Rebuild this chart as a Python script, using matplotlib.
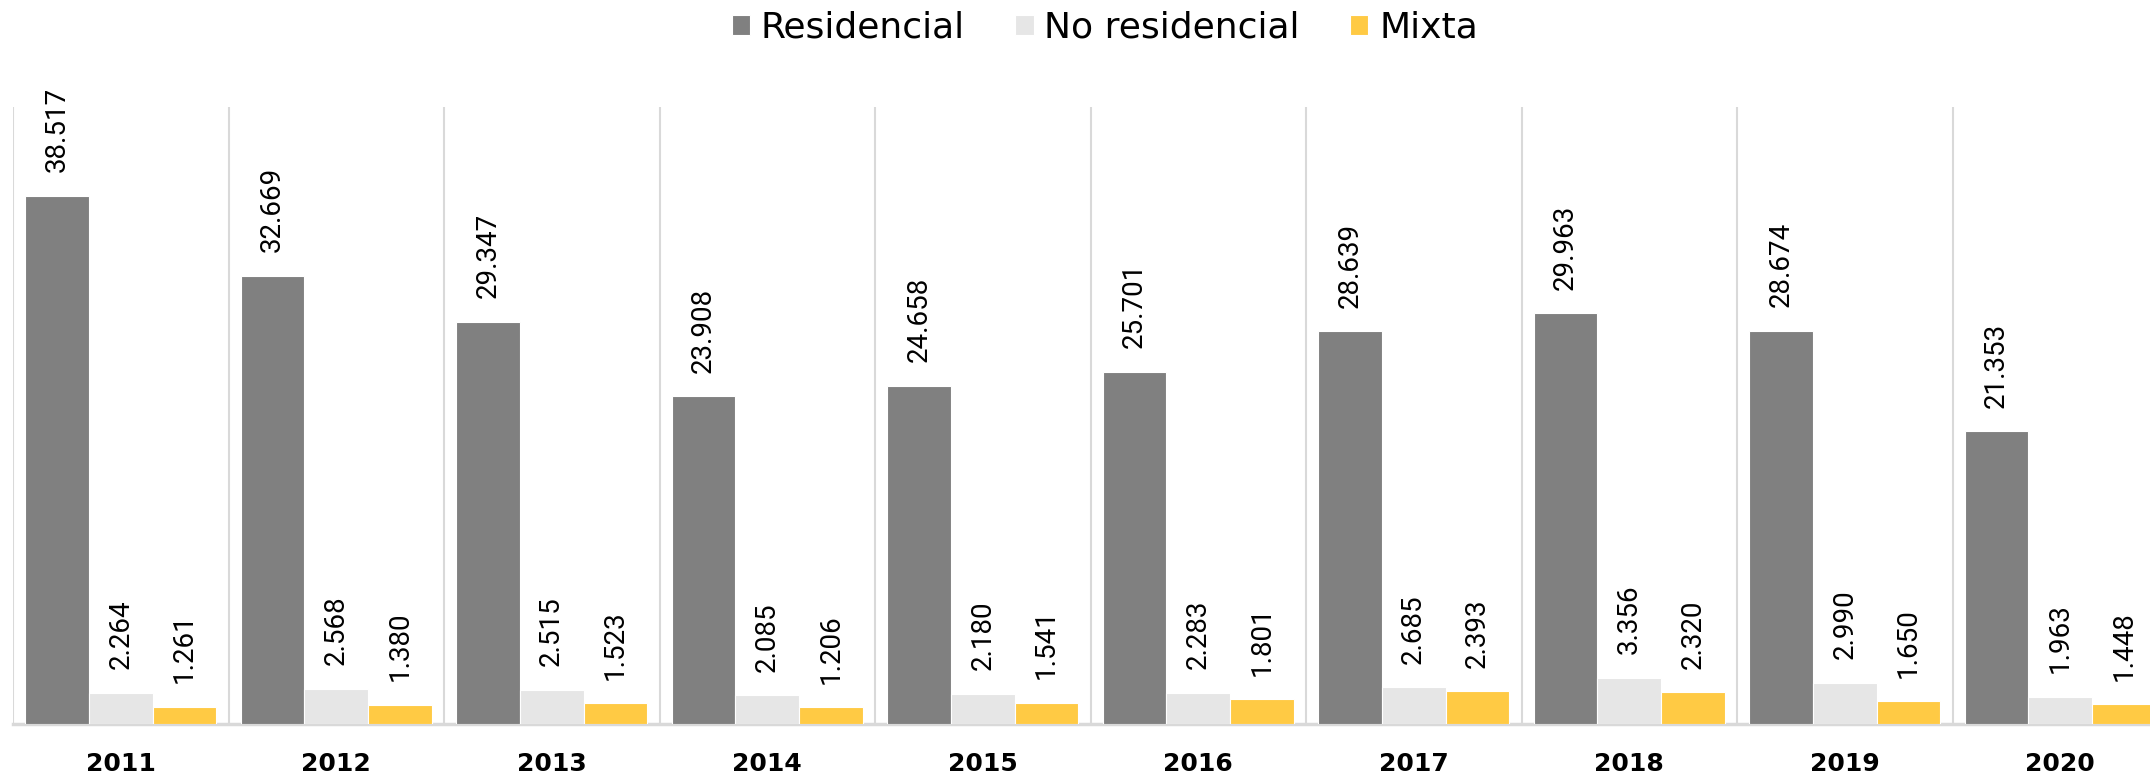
import matplotlib
matplotlib.use("Agg")
import matplotlib.pyplot as plt
import numpy as np

years = ["2011", "2012", "2013", "2014", "2015", "2016", "2017", "2018", "2019", "2020"]
series_names = ["Residencial", "No residencial", "Mixta"]
residencial = [38517, 32669, 29347, 23908, 24658, 25701, 28639, 29963, 28674, 21353]
no_residencial = [2264, 2568, 2515, 2085, 2180, 2283, 2685, 3356, 2990, 1963]
mixta = [1261, 1380, 1523, 1206, 1541, 1801, 2393, 2320, 1650, 1448]
colors = ["#808080", "#e6e6e6", "#ffca44"]

label_font = ["Roboto", "DejaVu Sans"]

fig = plt.figure(figsize=(21.5, 7.77), dpi=100)
ax = fig.add_axes([13 / 2150, 53 / 777, 2155 / 2150, 617 / 777])

x = np.arange(len(years))
w = 0.295
data = [residencial, no_residencial, mixta]
for k, (vals, name, col) in enumerate(zip(data, series_names, colors)):
    pos = x + (k - 1) * w
    bars = ax.bar(pos, vals, width=w, color=col, label=name,
                  edgecolor="white", linewidth=0.8, zorder=3)
    for b, v in zip(bars, vals):
        ax.annotate(f"{v:,}".replace(",", "."),
                    xy=(b.get_x() + b.get_width() / 2, b.get_height()),
                    xytext=(0, 17), textcoords="offset points",
                    rotation=90, ha="center", va="bottom",
                    fontsize=20, family=label_font, color="#000000")

ax.set_xlim(-0.5, len(years) - 0.5)
ax.set_ylim(0, 45000)

# vertical separators between categories
for b in np.arange(-0.5, len(years) + 0.5, 1.0):
    ax.axvline(b, color="#d9d9d9", linewidth=1.5, zorder=1)

for s in ["top", "right", "left"]:
    ax.spines[s].set_visible(False)
ax.spines["bottom"].set_color("#d9d9d9")
ax.spines["bottom"].set_linewidth(2.5)
ax.set_yticks([])
ax.set_xticks(x)
ax.set_xticklabels(years, fontsize=18, fontweight="bold", family="DejaVu Sans")
ax.tick_params(axis="x", length=0, pad=20)

leg = fig.legend(loc="center", bbox_to_anchor=(1105 / 2150, 1 - 28 / 777), ncol=3,
                 frameon=False, prop={"family": "DejaVu Sans", "size": 26},
                 handlelength=0.5, handleheight=0.5, handletextpad=0.3,
                 columnspacing=1.4)

fig.savefig("out.png", dpi=100)
